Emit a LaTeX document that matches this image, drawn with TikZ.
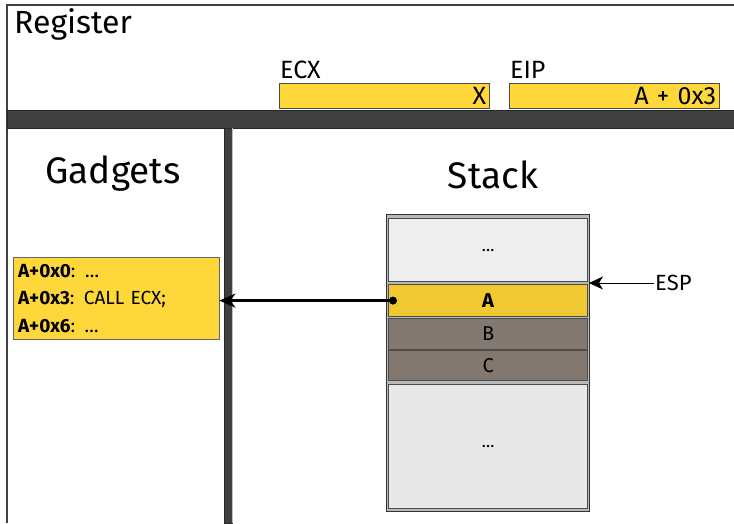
\documentclass[tikz,border=0pt]{standalone}
\usepackage{fontspec}
\setmainfont{Fira Sans}
\usetikzlibrary{arrows.meta}

\definecolor{regyellow}{HTML}{FED83B}
\definecolor{topyellow}{HTML}{F0C832}
\definecolor{slotbrown}{HTML}{827870}
\definecolor{slotgray}{HTML}{EEEEEE}
\definecolor{slotgraylow}{HTML}{E8E8E8}
\definecolor{bardark}{HTML}{404040}

\begin{document}
\begin{tikzpicture}[x=1pt, y=-1pt, font=\fontsize{20}{24}\selectfont,
	title/.style={font=\fontsize{37}{44}\selectfont, inner sep=0pt, anchor=base},
	reglabel/.style={font=\fontsize{25}{30}\selectfont, anchor=base west, inner sep=0pt},
	regbox/.style={draw=black!70, fill=regyellow, anchor=north west, minimum height=25pt, inner ysep=0pt, inner xsep=3pt, text width=204pt, align=right, font=\fontsize{25}{26}\selectfont},
	slot/.style={draw=black!70, line width=1.2pt, fill=slotgray, anchor=north west, minimum width=199pt, inner sep=0pt}]
	\useasboundingbox (0,0) rectangle (734,523);
	% frame, register bar and divider
	\draw[black!75, line width=1.5pt] (734,5) -- (7,5) -- (7,523);
	\draw[fill=bardark, draw=black!85] (7,110) rectangle (734,128);
	\draw[fill=bardark, draw=black!85] (224,128) rectangle (232,523);
	\draw[gray!50, line width=1pt] (232.8,128) -- (232.8,523);

	\node[title, font=\fontsize{32}{38}\selectfont, anchor=base west] (register) at (14,33) {Register};
	\node[reglabel] (ecxlabel) at (280,78) {ECX};
	\node[regbox] (ecx) at (279,83) {X};
	\node[reglabel] (eiplabel) at (510,78) {EIP};
	\node[regbox] (eip) at (509,83) {A + 0x3};

	\node[title] (gadgettitle) at (113,183) {Gadgets};
	\node[title] (stacktitle) at (493,188) {Stack};

	\node[draw=black!60, fill=regyellow, anchor=north west, minimum width=206pt, minimum height=82pt, text width=196pt, align=left, inner xsep=5pt, font=\fontsize{19}{27.5}\selectfont] (gadgets) at (13,257)
		{\textbf{A+0x0}: …\\ \textbf{A+0x3}: CALL ECX;\\ \textbf{A+0x6}: …};

	% stack slots
	\draw[draw=black!80, fill=gray!55, line width=1pt] (386,214) rectangle (589,511);
	\node[slot, minimum height=63pt, font=\fontsize{17}{20}\selectfont] (older) at (388,218) {…};
	\node[slot, minimum height=32pt, fill=topyellow, font=\fontsize{20}{24}\selectfont\bfseries] (slotA) at (388,284) {A};
	\node[slot, minimum height=31pt, fill=slotbrown] (slotB) at (388,318) {B};
	\node[slot, minimum height=30pt, fill=slotbrown] (slotC) at (388,350) {C};
	\node[slot, minimum height=124pt, fill=slotgraylow, font=\fontsize{17}{20}\selectfont] (newer) at (388,384) {…};

	\node[anchor=west, inner sep=1pt, font=\fontsize{22}{26}\selectfont] (esp) at (654,283) {ESP};
	\coordinate (sp) at (589,283);
	\draw[line width=1pt, -{Stealth[length=14pt, width=13pt, inset=4pt]}] (esp.west) -- (sp);

	\coordinate (ret) at ([xshift=5pt]slotA.west);
	\fill (ret) circle (4pt);
	\draw[line width=2.5pt, -{Stealth[length=16pt, width=14pt, inset=5pt]}] (ret) -- (gadgets.east |- ret);
\end{tikzpicture}
\end{document}
